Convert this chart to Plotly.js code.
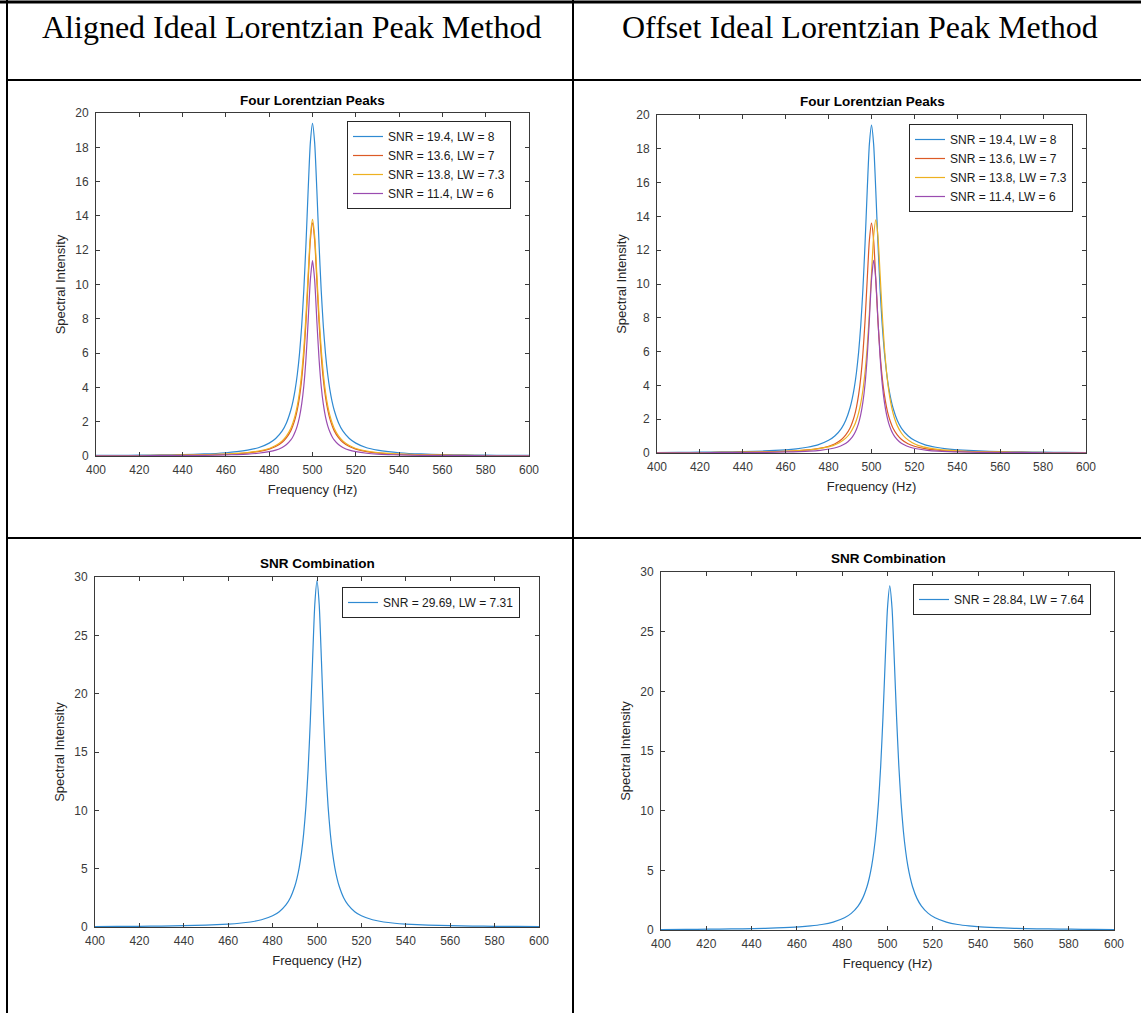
<!DOCTYPE html>
<html>
<head>
<meta charset="utf-8">
<script src="https://cdn.plot.ly/plotly-3.0.1.min.js"></script>
<style>
  html, body { margin: 0; padding: 0; background: #ffffff; }
  #chart { width: 1141px; height: 1013px; }
</style>
</head>
<body>
<div id="chart"></div>
<script>
// ---------- data ----------
const headerLeft = "Aligned Ideal Lorentzian Peak Method";
const headerRight = "Offset Ideal Lorentzian Peak Method";
const titleTop = "Four Lorentzian Peaks";
const titleBottom = "SNR Combination";
const xTitle = "Frequency (Hz)";
const yTitle = "Spectral Intensity";

const xTicks = [400, 420, 440, 460, 480, 500, 520, 540, 560, 580, 600];
const yTicksTop = [0, 2, 4, 6, 8, 10, 12, 14, 16, 18, 20];
const yTicksBottom = [0, 5, 10, 15, 20, 25, 30];

const peakNames = ["SNR = 19.4, LW = 8", "SNR = 13.6, LW = 7", "SNR = 13.8, LW = 7.3", "SNR = 11.4, LW = 6"];
const comboNameAligned = "SNR = 29.69, LW = 7.31";
const comboNameOffset = "SNR = 28.84, LW = 7.64";

// frequency samples (peak centred at 500, 501 and 502 Hz)
const freq500 = [400,410,420,430,440,450,460,465,470,475,480,483,486,488,490,491,492,493,494,495,496,497,498,499,500,501,502,503,504,505,506,507,508,509,510,512,514,517,520,525,530,535,540,550,560,570,580,590,600];
const freq501 = [400,411,421,431,441,451,461,466,471,476,481,484,487,489,491,492,493,494,495,496,497,498,499,500,501,502,503,504,505,506,507,508,509,510,511,513,515,518,521,526,531,536,541,551,561,571,581,591,600];
const freq502 = [400,412,422,432,442,452,462,467,472,477,482,485,488,490,492,493,494,495,496,497,498,499,500,501,502,503,504,505,506,507,508,509,510,511,512,514,516,519,522,527,532,537,542,552,562,572,582,592,600];

const peak1 = [0.031,0.038,0.048,0.063,0.086,0.12,0.19,0.25,0.34,0.48,0.75,1.02,1.46,1.94,2.68,3.20,3.88,4.78,5.97,7.57,9.70,12.42,15.52,18.26,19.40,18.26,15.52,12.42,9.70,7.57,5.97,4.78,3.88,3.20,2.68,1.94,1.46,1.02,0.75,0.48,0.34,0.25,0.19,0.12,0.086,0.063,0.048,0.038,0.031];
const peak2 = [0.017,0.021,0.026,0.034,0.046,0.066,0.10,0.13,0.18,0.26,0.40,0.55,0.80,1.07,1.48,1.79,2.18,2.72,3.45,4.47,5.90,7.84,10.25,12.57,13.60,12.57,10.25,7.84,5.90,4.47,3.45,2.72,2.18,1.79,1.48,1.07,0.80,0.55,0.40,0.26,0.18,0.13,0.10,0.066,0.046,0.034,0.026,0.021,0.017];
const peak3 = [0.018,0.023,0.029,0.037,0.051,0.073,0.11,0.15,0.20,0.29,0.44,0.61,0.88,1.17,1.62,1.95,2.38,2.95,3.73,4.80,6.27,8.24,10.61,12.84,13.80,12.84,10.61,8.24,6.27,4.80,3.73,2.95,2.38,1.95,1.62,1.17,0.88,0.61,0.44,0.29,0.20,0.15,0.11,0.073,0.051,0.037,0.029,0.023,0.018];
const peak4 = [0.010,0.013,0.016,0.021,0.028,0.041,0.064,0.083,0.11,0.16,0.25,0.34,0.50,0.67,0.94,1.14,1.41,1.77,2.28,3.02,4.10,5.70,7.89,10.26,11.40,10.26,7.89,5.70,4.10,3.02,2.28,1.77,1.41,1.14,0.94,0.67,0.50,0.34,0.25,0.16,0.11,0.083,0.064,0.041,0.028,0.021,0.016,0.013,0.010];
const comboAligned = [0.039,0.049,0.062,0.080,0.11,0.16,0.25,0.32,0.43,0.62,0.96,1.31,1.89,2.51,3.49,4.19,5.12,6.35,8.02,10.32,13.49,17.72,22.83,27.62,29.69,27.62,22.83,17.72,13.49,10.32,8.02,6.35,5.12,4.19,3.49,2.51,1.89,1.31,0.96,0.62,0.43,0.32,0.25,0.16,0.11,0.080,0.062,0.049,0.039];
const comboOffset = [0.042,0.052,0.065,0.086,0.12,0.17,0.26,0.34,0.46,0.66,1.02,1.39,2.00,2.65,3.67,4.40,5.35,6.62,8.32,10.63,13.76,17.84,22.64,26.99,28.84,26.99,22.64,17.84,13.76,10.63,8.32,6.62,5.35,4.40,3.67,2.65,2.00,1.39,1.02,0.66,0.46,0.34,0.26,0.17,0.12,0.086,0.065,0.052,0.042];

// ---------- styling ----------
const colors = ["#2f8ad2", "#dc5a26", "#edb120", "#9a4cb0"];
const sans = "Liberation Sans, Arial, Helvetica, sans-serif";
const axisColor = "#3a3a3a";
const tickFont = {family: sans, size: 12, color: "#3a3a3a"};

const W = 1141, H = 1013;
const px = v => v / W;
const py = v => 1 - v / H;

function lineTrace(x, y, name, color, xa, ya, legend) {
  return {x: x, y: y, name: name, type: "scatter", mode: "lines",
          line: {color: color, width: 1.2, shape: "spline", smoothing: 0.6},
          xaxis: xa, yaxis: ya, legend: legend};
}

const traces = [
  lineTrace(freq500, peak1, peakNames[0], colors[0], "x", "y", "legend"),
  lineTrace(freq500, peak2, peakNames[1], colors[1], "x", "y", "legend"),
  lineTrace(freq500, peak3, peakNames[2], colors[2], "x", "y", "legend"),
  lineTrace(freq500, peak4, peakNames[3], colors[3], "x", "y", "legend"),
  lineTrace(freq500, peak1, peakNames[0], colors[0], "x2", "y2", "legend2"),
  lineTrace(freq500, peak2, peakNames[1], colors[1], "x2", "y2", "legend2"),
  lineTrace(freq502, peak3, peakNames[2], colors[2], "x2", "y2", "legend2"),
  lineTrace(freq501, peak4, peakNames[3], colors[3], "x2", "y2", "legend2"),
  lineTrace(freq500, comboAligned, comboNameAligned, colors[0], "x3", "y3", "legend3"),
  lineTrace(freq501, comboOffset, comboNameOffset, colors[0], "x4", "y4", "legend4")
];

function xAxis(domain, anchor) {
  return {domain: domain, anchor: anchor, range: [400, 600], tickvals: xTicks,
          ticks: "inside", ticklen: 4, tickcolor: axisColor, tickwidth: 1,
          showline: true, linecolor: axisColor, linewidth: 1, mirror: "ticks",
          showgrid: false, zeroline: false, tickfont: tickFont, ticklabelstandoff: 3,
          title: {text: xTitle, font: {family: sans, size: 13, color: "#262626"}, standoff: 8}};
}
function yAxis(domain, anchor, range, ticks) {
  return {domain: domain, anchor: anchor, range: range, tickvals: ticks,
          ticks: "inside", ticklen: 4, tickcolor: axisColor, tickwidth: 1,
          showline: true, linecolor: axisColor, linewidth: 1, mirror: "ticks",
          showgrid: false, zeroline: false, tickfont: tickFont, ticklabelstandoff: 4,
          title: {text: yTitle, font: {family: sans, size: 13, color: "#262626"}, standoff: 6}};
}

function legendBox(x, y) {
  return {x: px(x), y: py(y), xanchor: "left", yanchor: "top", xref: "paper", yref: "paper",
          bgcolor: "#ffffff", bordercolor: "#262626", borderwidth: 1,
          font: {family: sans, size: 12, color: "#1a1a1a"}, tracegroupgap: 0, itemwidth: 30};
}

function tableLine(x0, y0, x1, y1, w) {
  return {type: "line", xref: "paper", yref: "paper", x0: px(x0), y0: py(y0), x1: px(x1), y1: py(y1),
          line: {color: "#000000", width: w}};
}

function label(text, x, y, font) {
  return {text: text, x: px(x), y: py(y), xref: "paper", yref: "paper", showarrow: false,
          xanchor: "center", yanchor: "middle", font: font};
}

const headerFont = {family: "Liberation Serif, Times New Roman, serif", size: 32, color: "#000000"};
const plotTitleFont = {family: sans, size: 13.5, color: "#000000", weight: "bold"};

const layout = {
  width: W, height: H,
  margin: {l: 0, r: 0, t: 0, b: 0},
  paper_bgcolor: "#ffffff", plot_bgcolor: "#ffffff",
  showlegend: true,
  xaxis: xAxis([px(96), px(529)], "y"),
  yaxis: yAxis([py(456), py(113)], "x", [0, 20], yTicksTop),
  xaxis2: xAxis([px(657), px(1086)], "y2"),
  yaxis2: yAxis([py(453), py(115)], "x2", [0, 20], yTicksTop),
  xaxis3: xAxis([px(95), px(539)], "y3"),
  yaxis3: yAxis([py(927), py(577)], "x3", [0, 30], yTicksBottom),
  xaxis4: xAxis([px(661), px(1114)], "y4"),
  yaxis4: yAxis([py(930), py(572)], "x4", [0, 30], yTicksBottom),
  legend: legendBox(347, 121),
  legend2: legendBox(909, 124),
  legend3: legendBox(342, 587),
  legend4: legendBox(913, 584),
  shapes: [
    tableLine(0, 2, 1141, 2, 3),
    tableLine(7, 0, 7, 1013, 2),
    tableLine(573, 0, 573, 1013, 2),
    tableLine(7, 80, 1141, 80, 2),
    tableLine(7, 538, 1141, 538, 2)
  ],
  annotations: [
    label(headerLeft, 291, 27, headerFont),
    label(headerRight, 860, 27, headerFont),
    label(titleTop, 312, 101, plotTitleFont),
    label(titleTop, 872, 102, plotTitleFont),
    label(titleBottom, 317, 563, plotTitleFont),
    label(titleBottom, 888, 558, plotTitleFont)
  ]
};

Plotly.newPlot("chart", traces, layout, {displayModeBar: false, staticPlot: true});
</script>
</body>
</html>
